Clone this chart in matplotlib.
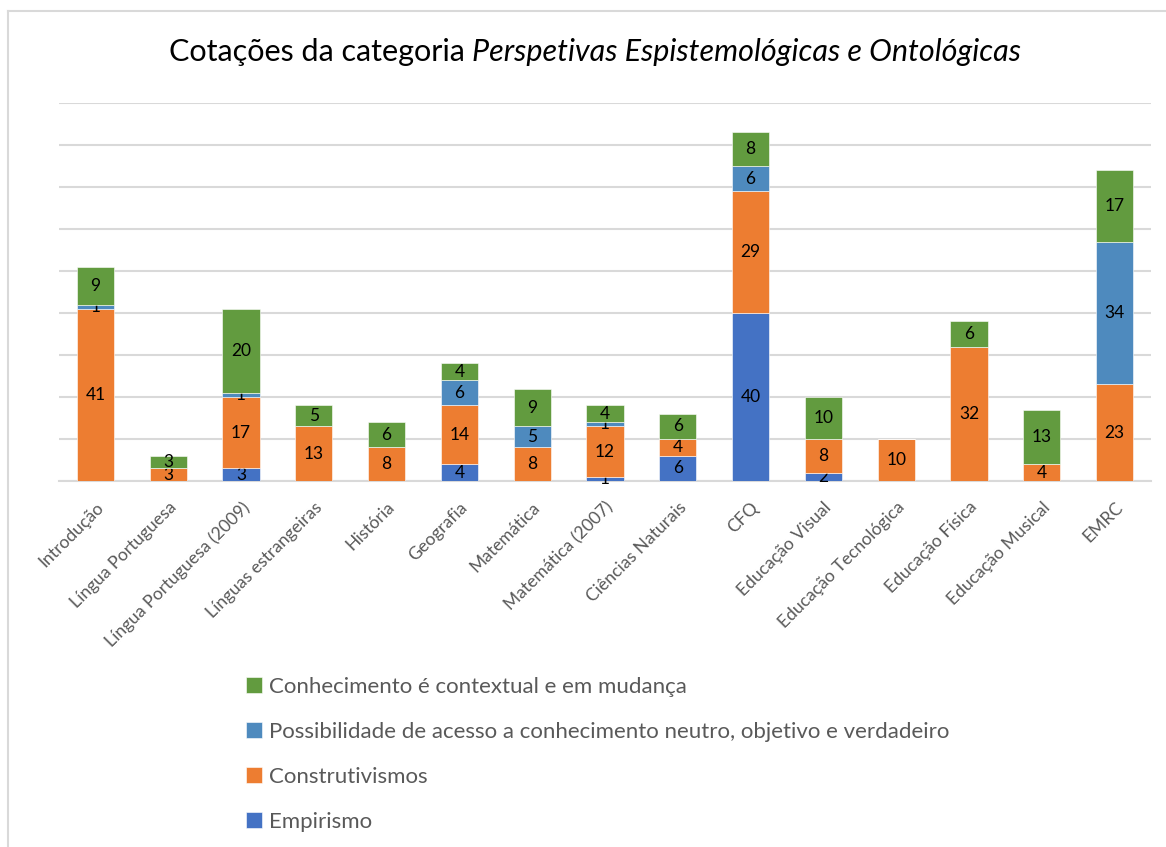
import matplotlib.pyplot as plt
import numpy as np
from matplotlib.lines import Line2D

plt.rcParams['font.family'] = ['Lato', 'DejaVu Sans']

categories = ['Introdução', 'Língua Portuguesa', 'Língua Portuguesa (2009)',
              'Línguas estrangeiras', 'História', 'Geografia', 'Matemática',
              'Matemática (2007)', 'Ciências Naturais', 'CFQ', 'Educação Visual',
              'Educação Tecnológica', 'Educação Física', 'Educação Musical', 'EMRC']

empirismo = [0, 0, 3, 0, 0, 4, 0, 1, 6, 40, 2, 0, 0, 0, 0]
construtivismos = [41, 3, 17, 13, 8, 14, 8, 12, 4, 29, 8, 10, 32, 4, 23]
possibilidade = [1, 0, 1, 0, 0, 6, 5, 1, 0, 6, 0, 0, 0, 0, 34]
conhecimento = [9, 3, 20, 5, 6, 4, 9, 4, 6, 8, 10, 0, 6, 13, 17]

series = [
    ('Empirismo', empirismo, '#4472C4'),
    ('Construtivismos', construtivismos, '#ED7D31'),
    ('Possibilidade de acesso a conhecimento neutro, objetivo e verdadeiro', possibilidade, '#4E8ABE'),
    ('Conhecimento é contextual e em mudança', conhecimento, '#629B3F'),
]

W, H = 1166, 847
fig = plt.figure(figsize=(W / 100, H / 100), dpi=100)
ax = fig.add_axes([59 / W, 1 - 481 / H, (1151 - 59) / W, (481 - 103) / H])

x = np.arange(len(categories))
bottom = np.zeros(len(categories))
handles = []
for name, vals, color in series:
    vals = np.array(vals)
    bars = ax.bar(x, vals, 0.51, bottom=bottom, color=color, edgecolor='white',
                  linewidth=0.4, zorder=3, label=name)
    labels = [str(v) if v > 0 else '' for v in vals]
    ax.bar_label(bars, labels=labels, label_type='center', fontsize=12.5, color='black')
    bottom += vals
    handles.append(bars)

ax.set_xlim(-0.5, len(categories) - 0.5)
ax.set_ylim(0, 90)
ax.set_yticks(np.arange(0, 91, 10))
ax.yaxis.grid(True, color='#D9D9D9', linewidth=1.5, zorder=0)
ax.tick_params(axis='y', left=False, labelleft=False)
ax.tick_params(axis='x', length=0, pad=13)
ax.set_xticks(x)
ax.set_xticklabels(categories, rotation=45, ha='right', rotation_mode='anchor',
                   fontsize=12.6, color='#595959')
for s in ['top', 'right', 'left']:
    ax.spines[s].set_visible(False)
ax.spines['bottom'].set_color('#D9D9D9')
ax.spines['bottom'].set_linewidth(1.5)

# title: normal part + italic part, centred together
ty = 1 - 52 / H
t1 = fig.text(0.5, ty, 'Cotações da categoria ', ha='left', va='center',
              fontsize=22, color='black')
t2 = fig.text(0.5, ty, 'Perspetivas Espistemológicas e Ontológicas', ha='left',
              va='center', fontsize=22, style='italic', color='black')
fig.canvas.draw()
r = fig.canvas.get_renderer()
w1 = t1.get_window_extent(r).width / W
w2 = t2.get_window_extent(r).width / W
start = 595 / W - (w1 + w2) / 2
t1.set_x(start)
t2.set_x(start + w1)

# outer chart border
fig.add_artist(Line2D([8 / W, 8 / W], [0, 1 - 11 / H], color='#D9D9D9',
                      linewidth=1.5, transform=fig.transFigure))
fig.add_artist(Line2D([8 / W, 1], [1 - 11 / H, 1 - 11 / H], color='#D9D9D9',
                      linewidth=1.5, transform=fig.transFigure))

fig.legend(handles[::-1], [s[0] for s in series[::-1]], loc='upper left',
           bbox_to_anchor=(226 / W, 1 - 657 / H), frameon=False,
           fontsize=16, labelcolor='#595959', handlelength=0.7, handleheight=0.7,
           handletextpad=0.35, labelspacing=1.12)

fig.savefig('out.png', dpi=100)
